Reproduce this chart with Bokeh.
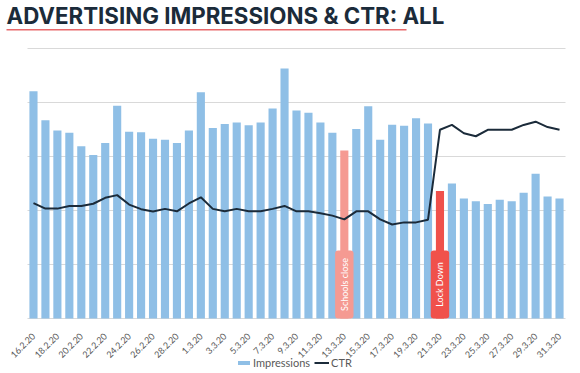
import math
from bokeh.plotting import figure
from bokeh.models import (Range1d, FixedTicker, Label, BoxAnnotation,
                          Legend, LegendItem, ColumnDataSource)
from bokeh.core.properties import value
from bokeh.embed import file_html
from bokeh.resources import INLINE

TITLE = "ADVERTISING IMPRESSIONS & CTR: ALL"

dates = ["16.2.20", "17.2.20", "18.2.20", "19.2.20", "20.2.20", "21.2.20", "22.2.20",
         "23.2.20", "24.2.20", "25.2.20", "26.2.20", "27.2.20", "28.2.20", "29.2.20",
         "1.3.20", "2.3.20", "3.3.20", "4.3.20", "5.3.20", "6.3.20", "7.3.20", "8.3.20",
         "9.3.20", "10.3.20", "11.3.20", "12.3.20", "13.3.20", "14.3.20", "15.3.20",
         "16.3.20", "17.3.20", "18.3.20", "19.3.20", "20.3.20", "21.3.20", "22.3.20",
         "23.3.20", "24.3.20", "25.3.20", "26.3.20", "27.3.20", "28.3.20", "29.3.20",
         "30.3.20", "31.3.20"]

impressions = [84200, 73400, 69600, 68800, 63800, 60600, 65000, 78800, 69200, 69000,
               66600, 66200, 65000, 69600, 83800, 70600, 72000, 72600, 71600, 72600,
               77800, 92600, 77000, 76200, 72600, 68800, 62200, 70200, 78600, 66200,
               71800, 71400, 74200, 72200, 47200, 50000, 44400, 43400, 42400, 44000,
               43400, 46600, 53600, 45200, 44400]

ctr = [0.427, 0.407, 0.407, 0.417, 0.417, 0.425, 0.447, 0.457, 0.422, 0.405,
       0.396, 0.406, 0.397, 0.426, 0.449, 0.406, 0.397, 0.406, 0.397, 0.397,
       0.406, 0.417, 0.397, 0.397, 0.390, 0.381, 0.367, 0.397, 0.397, 0.367,
       0.348, 0.356, 0.356, 0.366, 0.699, 0.717, 0.686, 0.675, 0.699, 0.699,
       0.699, 0.717, 0.729, 0.709, 0.699]

events = ["13.3.20", "21.3.20"]
event_labels = ["Schools close", "Lock Down"]
event_colors = ["#F59A92", "#F0514B"]
event_box_height = [25200, 25200]

grid_ticks = [0, 20000, 40000, 60000, 80000, 100000]

BAR = "#8FBFE6"
NAVY = "#1B2B3A"
GREY = "#595959"

n = len(dates)
idx = list(range(n))
colors = [BAR] * n
for e, c in zip(events, event_colors):
    colors[dates.index(e)] = c

src = ColumnDataSource(dict(x=idx, imp=impressions, ctr=ctr, color=colors))

# bar area: 538 px wide (x 27..565), 270 px from zero line (y 318) to top grid line (y 48)
px_x = n / 538.0
px_y = 100000 / 270.0
ctr_px = 1.0 / 270.0

# the frame covers the whole canvas; the date axis is pinned at zero
p = figure(width=580, height=373, output_backend="svg", toolbar_location=None,
           x_range=Range1d(-0.5 - 27 * px_x, n - 0.5 + 15 * px_x),
           y_range=Range1d(-55 * px_y, 318 * px_y),
           y_axis_location=None, min_border_left=0, min_border_right=0,
           min_border_top=0, min_border_bottom=0)
p.outline_line_color = None
p.background_fill_color = "white"
p.border_fill_color = "white"
p.extra_y_ranges = {"ctr": Range1d(-55 * ctr_px, 318 * ctr_px)}

p.xgrid.visible = False
p.ygrid.visible = False
p.segment(x0=[-0.5] * len(grid_ticks), x1=[n - 0.5] * len(grid_ticks),
          y0=grid_ticks, y1=grid_ticks, line_color="#D9D9D9", line_width=1)

p.xaxis.fixed_location = 0
p.xaxis.ticker = FixedTicker(ticks=idx[::2])
p.xaxis.major_label_overrides = {i: dates[i] for i in idx[::2]}
p.xaxis.major_label_orientation = math.pi / 4
p.xaxis.axis_line_color = None
p.xaxis.major_tick_line_color = None
p.xaxis.minor_tick_line_color = None
p.xaxis.major_label_text_font = "Lato"
p.xaxis.major_label_text_font_size = "9px"
p.xaxis.major_label_text_color = GREY
p.xaxis.major_label_standoff = 10

bars = p.vbar(x="x", top="imp", width=0.68, source=src, fill_color="color",
              line_color=None)
line = p.line(x="x", y="ctr", source=src, y_range_name="ctr", line_color=NAVY,
              line_width=2)

ev_x = [dates.index(e) for e in events]
p.quad(left=[x - 0.77 for x in ev_x], right=[x + 0.77 for x in ev_x],
       bottom=[0, 0], top=event_box_height, fill_color=event_colors, line_color=None,
       border_radius=3)
p.text(x=ev_x, y=[h / 2 for h in event_box_height], text=event_labels, angle=math.pi / 2,
       text_align="center", text_baseline="middle", text_color="white",
       text_font=value("Lato"), text_font_size="9px")

legend = Legend(items=[LegendItem(label="Impressions", renderers=[bars]),
                       LegendItem(label="CTR", renderers=[line])],
                orientation="horizontal", location=(236, 4), padding=0, margin=0,
                spacing=4, glyph_width=15, glyph_height=5, label_height=12,
                label_standoff=2, label_text_font="Lato", label_text_font_size="11px",
                label_text_color=GREY, border_line_color=None, background_fill_alpha=0)
p.add_layout(legend, "center")

title = Label(x=-0.5 - 21 * px_x, y=303 * px_y, text=TITLE,
              text_font="Inter", text_font_style="bold", text_font_size="22.3px",
              text_color=NAVY, text_baseline="alphabetic")
p.add_layout(title)

underline = BoxAnnotation(left=-0.5 - 21 * px_x, right=-0.5 + 379 * px_x,
                          bottom=288 * px_y, top=289.5 * px_y,
                          fill_color="#E8696B", fill_alpha=1, line_color=None)
p.add_layout(underline)

open("out.html", "w").write(file_html(p, INLINE))
